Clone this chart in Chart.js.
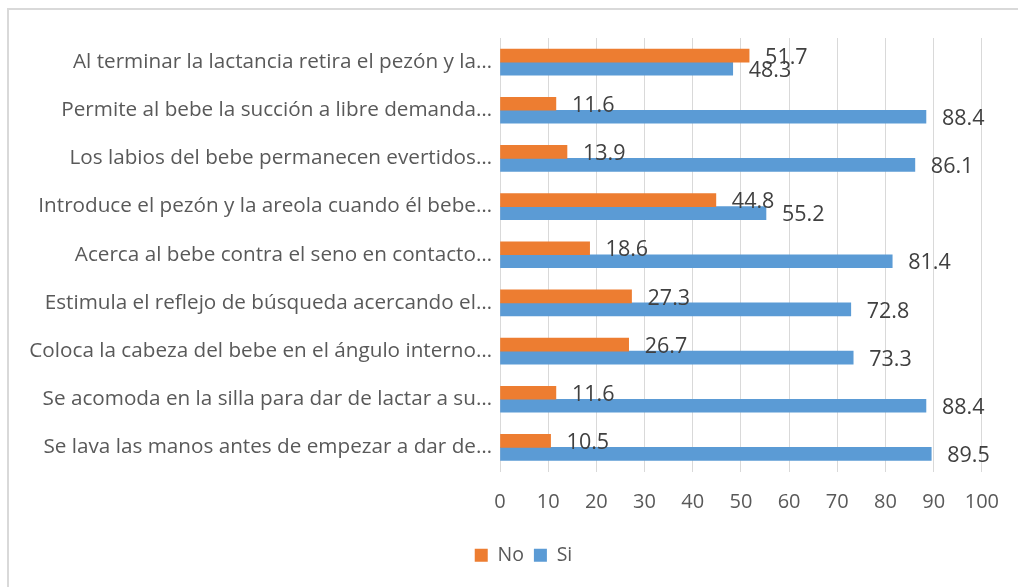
<!DOCTYPE html>
<html>
<head>
<meta charset="utf-8">
<script src="https://cdn.jsdelivr.net/npm/chart.js@4.4.1/dist/chart.umd.min.js"></script>
<style>
  html, body { margin: 0; padding: 0; background: #fff; }
  #wrap { position: relative; width: 1018px; height: 587px; overflow: hidden; }
  #frame { position: absolute; left: 7px; top: 8px; width: 1100px; height: 700px;
           border-left: 2px solid #d9d9d9; border-top: 2px solid #d9d9d9; }
  canvas { position: absolute; left: 0; top: 0; }
</style>
</head>
<body>
<div id="wrap">
  <div id="frame"></div>
  <canvas id="chart" width="1018" height="587"></canvas>
</div>
<script>
// Items of the observation checklist (top to bottom)
const categories = [
    'Al terminar la lactancia retira el pezón y la…',
    'Permite al bebe la succión a libre demanda…',
    'Los labios del bebe permanecen evertidos…',
    'Introduce el pezón y la areola cuando él bebe…',
    'Acerca al bebe contra el seno en contacto…',
    'Estimula el reflejo de búsqueda acercando el…',
    'Coloca la cabeza del bebe en el ángulo interno…',
    'Se acomoda en la silla para dar de lactar a su…',
    'Se lava las manos antes de empezar a dar de…'
];
const noValues = [51.7, 11.6, 13.9, 44.8, 18.6, 27.3, 26.7, 11.6, 10.5];
const siValues = [48.3, 88.4, 86.1, 55.2, 81.4, 72.8, 73.3, 88.4, 89.5];
const xTicks = [0, 10, 20, 30, 40, 50, 60, 70, 80, 90, 100];

const FONT = '"Open Sans", Lato, sans-serif';

// Value labels next to each bar end
const valueLabels = {
    id: 'valueLabels',
    afterDatasetsDraw(chart) {
        const ctx = chart.ctx;
        ctx.save();
        ctx.font = '21.5px ' + FONT;
        ctx.fillStyle = '#404040';
        ctx.textAlign = 'left';
        ctx.textBaseline = 'middle';
        chart.data.datasets.forEach((ds, i) => {
            chart.getDatasetMeta(i).data.forEach((bar, j) => {
                ctx.fillText(ds.data[j].toFixed(1), bar.x + 16, bar.y + 2);
            });
        });
        ctx.restore();
    }
};

// Nudge the legend a little to the right, like the original
const legendShift = {
    id: 'legendShift',
    afterUpdate(chart) {
        const lg = chart.legend;
        if (!lg) return;
        lg.left += 28;
        lg.right += 28;
        lg.adjustHitBoxes();
    }
};

new Chart(document.getElementById('chart'), {
    type: 'bar',
    data: {
        labels: categories,
        datasets: [
            { label: 'No', data: noValues, backgroundColor: '#ED7D31', barThickness: 13 },
            { label: 'Si', data: siValues, backgroundColor: '#5B9BD5', barThickness: 13 }
        ]
    },
    options: {
        indexAxis: 'y',
        responsive: false,
        animation: false,
        layout: { padding: { left: 0, right: 27, top: 38, bottom: 12 } },
        plugins: {
            legend: {
                position: 'bottom',
                labels: {
                    boxWidth: 13,
                    boxHeight: 13,
                    padding: 10,
                    color: '#595959',
                    font: { family: FONT, size: 19.5 }
                }
            },
            tooltip: { enabled: false }
        },
        scales: {
            x: {
                min: 0,
                max: 100,
                afterBuildTicks(scale) {
                    scale.ticks = xTicks.map(v => ({ value: v }));
                },
                afterFit(scale) { scale.height = 64; },
                grid: { color: '#d9d9d9', lineWidth: 1, drawTicks: false },
                border: { display: false },
                ticks: {
                    padding: 19,
                    color: '#595959',
                    font: { family: FONT, size: 20 }
                }
            },
            y: {
                afterFit(scale) { scale.width = 500; },
                grid: { display: false },
                border: { display: false },
                ticks: {
                    padding: 0,
                    color: '#595959',
                    font: { family: FONT, size: 20.7 }
                }
            }
        }
    },
    plugins: [valueLabels, legendShift]
});
</script>
</body>
</html>
